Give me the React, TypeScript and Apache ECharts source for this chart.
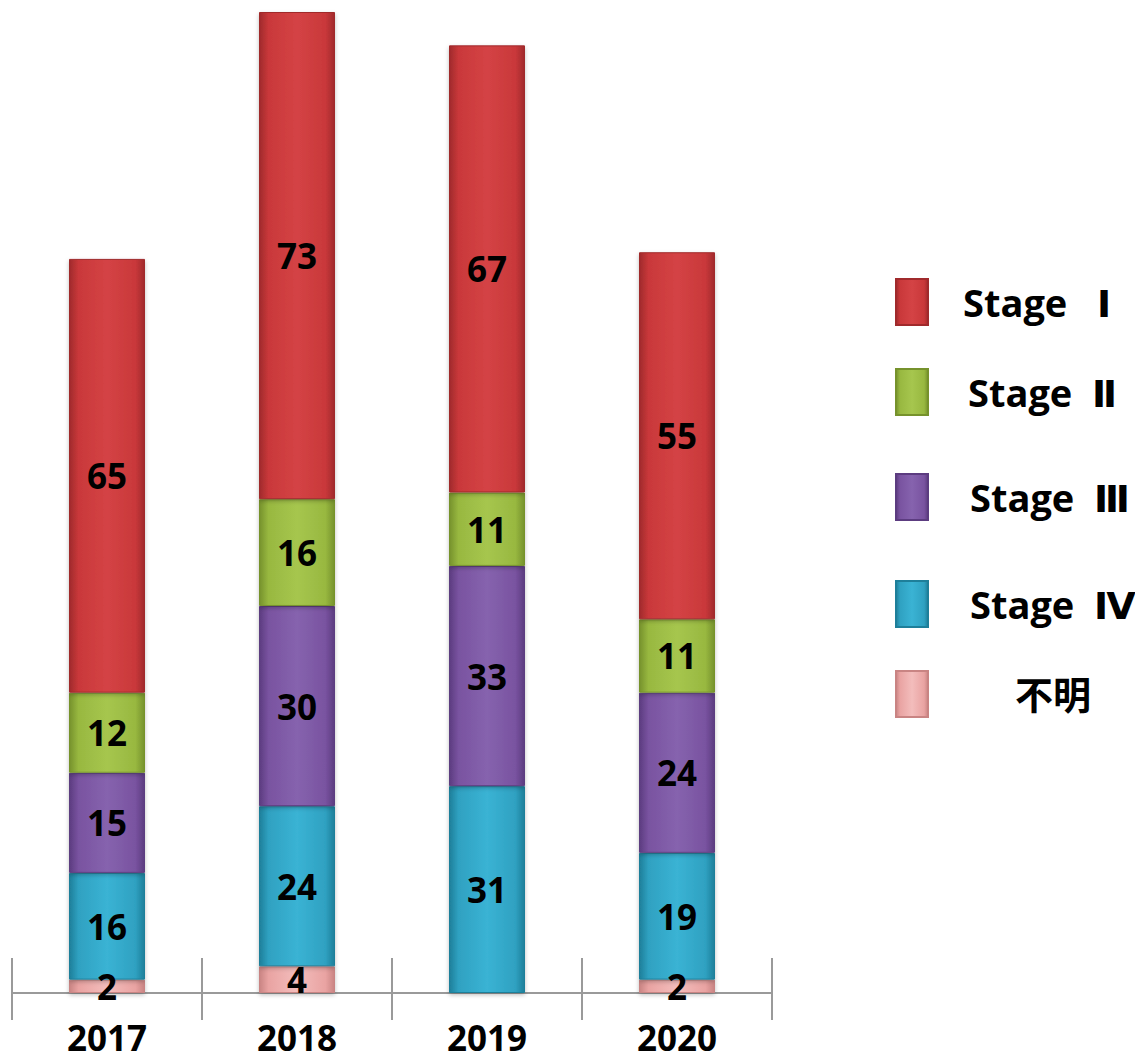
import React, { useEffect, useRef } from "react";
import * as echarts from "echarts";

const years = ["2017", "2018", "2019", "2020"];
const unknown = [2, 4, 0, 2];
const stage4 = [16, 24, 31, 19];
const stage3 = [15, 30, 33, 24];
const stage2 = [12, 16, 11, 11];
const stage1 = [65, 73, 67, 55];

const seriesNames = ["不明", "Stage  Ⅳ", "Stage  Ⅲ", "Stage  Ⅱ", "Stage   Ⅰ"];
const seriesData = [unknown, stage4, stage3, stage2, stage1];
const baseColors = ["#E9A3A2", "#2FA1C1", "#7953A0", "#98B840", "#C9383A"];
const darkColors = ["#C98483", "#1E7F9A", "#5C3C80", "#76922C", "#A02A2C"];
const lightColors = ["#F3BDBC", "#3AB3D4", "#8663AE", "#A6C64E", "#D44345"];

const FONT = "'Open Sans', 'DejaVu Sans', 'Noto Sans CJK JP', sans-serif";

// legend layout (top of each icon, left padding of text)
const legendTops = [665, 575, 468, 363, 273];
const legendTextPad = [82, 37, 37, 35, 30];

export default function App() {
  const ref = useRef<HTMLDivElement>(null);
  useEffect(() => {
    if (!ref.current) return;
    const chart = echarts.init(ref.current, null, { renderer: "svg" });
    const grad = (i: number) =>
      new echarts.graphic.LinearGradient(0, 0, 1, 0, [
        { offset: 0, color: darkColors[i] },
        { offset: 0.12, color: baseColors[i] },
        { offset: 0.5, color: lightColors[i] },
        { offset: 0.88, color: baseColors[i] },
        { offset: 1, color: darkColors[i] },
      ]);
    const option: any = {
      animation: false,
      backgroundColor: "#ffffff",
      grid: { left: 12, right: 371, top: 12, bottom: 68, containLabel: false },
      xAxis: [
        {
          type: "category",
          data: years,
          axisLine: { show: true, lineStyle: { color: "#9a9a9a", width: 2 } },
          axisTick: { show: true, length: 27, lineStyle: { color: "#9a9a9a", width: 2 } },
          axisLabel: {
            color: "#000",
            fontSize: 35,
            lineHeight: 36,
            fontWeight: "bold",
            fontFamily: FONT,
            margin: 26,
          },
        },
        {
          type: "category",
          data: years,
          position: "bottom",
          axisLine: { show: false },
          axisTick: { show: true, inside: true, length: 35, lineStyle: { color: "#9a9a9a", width: 2 } },
          axisLabel: { show: false },
        },
      ],
      yAxis: {
        type: "value",
        min: 0,
        max: 147,
        show: false,
        splitLine: { show: false },
      },
      legend: seriesNames.map((name, i) => ({
        data: [name],
        left: 890,
        top: legendTops[i],
        orient: "vertical",
        icon: "rect",
        itemWidth: 32,
        itemHeight: 46,
        selectedMode: false,
        textStyle: {
          color: "#000",
          fontSize: 38,
          fontWeight: "bold",
          fontFamily: FONT,
          padding: [0, 0, 0, legendTextPad[i]],
        },
      })),
      series: seriesNames.map((name, i) => ({
        name,
        type: "bar",
        stack: "total",
        xAxisIndex: 0,
        barWidth: 76,
        data: seriesData[i],
        itemStyle: {
          color: grad(i),
          borderColor: darkColors[i],
          borderWidth: 1,
          shadowColor: "rgba(0,0,0,0.25)",
          shadowBlur: 4,
          shadowOffsetY: 2,
        },
        label: {
          show: true,
          position: "inside",
          color: "#000",
          fontSize: 35,
          fontWeight: "bold",
          fontFamily: FONT,
          formatter: (p: any) => (p.value === 0 ? "" : String(p.value)),
        },
      })),
    };
    chart.setOption(option);
    return () => chart.dispose();
  }, []);
  return <div ref={ref} style={{ width: 1143, height: 1061, margin: -8 }} />;
}
